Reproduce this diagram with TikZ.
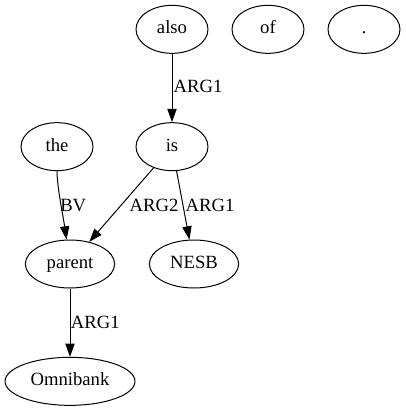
\documentclass[tikz,border=0pt]{standalone}
\usepackage{fontspec}
\setmainfont{Liberation Serif}
\usetikzlibrary{shapes.geometric,arrows.meta}
\begin{document}
\begin{tikzpicture}[x=1pt,y=-1pt,
  every node/.style={font=\fontsize{14pt}{16pt}\selectfont},
  nd/.style={draw,ellipse,line width=0.75pt,minimum width=54pt,minimum height=36pt,inner sep=0pt,text height=9.8pt,text depth=3.2pt},
  arr/.style={draw,line width=0.75pt,-{Triangle[length=10pt,width=7pt]}},
  lbl/.style={anchor=west,inner sep=0pt}]
\useasboundingbox (0,0) rectangle (303.75,308.25);
\node[nd] (also) at (129,22) {also};
\node[nd] (of) at (201,22) {of};
\node[nd] (dot) at (273,22) {.};
\node[nd] (the) at (42.75,110) {the};
\node[nd] (is) at (129,110) {is};
\node[nd,minimum width=67pt] (parent) at (52.5,198) {parent};
\node[nd,minimum width=67pt] (nesb) at (145.5,198) {NESB};
\node[nd,minimum width=97.5pt] (omni) at (52.5,286) {Omnibank};
\draw[arr] (also) -- (is);
\node[lbl] (l1) at (130,65) {ARG1};
\draw[arr] (the) .. controls +(0,30) and +(-5,-35) .. (parent);
\node[lbl] (l2) at (45,154) {BV};
\draw[arr] (is) -- (parent);
\node[lbl] (l3) at (97,154) {ARG2};
\draw[arr] (is) -- (nesb);
\node[lbl] (l4) at (139,154) {ARG1};
\draw[arr] (parent) -- (omni);
\node[lbl] (l5) at (53,242) {ARG1};
\end{tikzpicture}
\end{document}
